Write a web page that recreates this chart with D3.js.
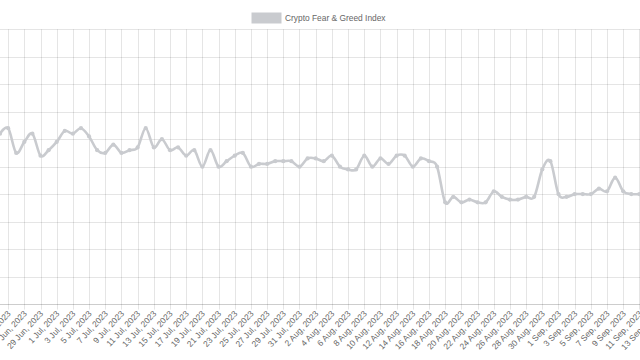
<!DOCTYPE html>
<html>
<head>
<meta charset="utf-8">
<script src="https://cdn.jsdelivr.net/npm/d3@7"></script>
<style>
html,body{margin:0;padding:0;background:#fff;overflow:hidden;}
svg{display:block;}
</style>
</head>
<body>
<svg id="chart" width="640" height="360"></svg>
<script>
// ---- data ----
const seriesName = "Crypto Fear & Greed Index";
const categories = [
  "2023-06-24","2023-06-25","2023-06-26","2023-06-27","2023-06-28","2023-06-29","2023-06-30",
  "2023-07-01","2023-07-02","2023-07-03","2023-07-04","2023-07-05","2023-07-06","2023-07-07",
  "2023-07-08","2023-07-09","2023-07-10","2023-07-11","2023-07-12","2023-07-13","2023-07-14",
  "2023-07-15","2023-07-16","2023-07-17","2023-07-18","2023-07-19","2023-07-20","2023-07-21",
  "2023-07-22","2023-07-23","2023-07-24","2023-07-25","2023-07-26","2023-07-27","2023-07-28",
  "2023-07-29","2023-07-30","2023-07-31","2023-08-01","2023-08-02","2023-08-03","2023-08-04",
  "2023-08-05","2023-08-06","2023-08-07","2023-08-08","2023-08-09","2023-08-10","2023-08-11",
  "2023-08-12","2023-08-13","2023-08-14","2023-08-15","2023-08-16","2023-08-17","2023-08-18",
  "2023-08-19","2023-08-20","2023-08-21","2023-08-22","2023-08-23","2023-08-24","2023-08-25",
  "2023-08-26","2023-08-27","2023-08-28","2023-08-29","2023-08-30","2023-08-31","2023-09-01",
  "2023-09-02","2023-09-03","2023-09-04","2023-09-05","2023-09-06","2023-09-07","2023-09-08",
  "2023-09-09","2023-09-10","2023-09-11","2023-09-12","2023-09-13"
];
const values = [
  62,64,55,59,62,54,56,
  59,63,62,64,61,56,55,
  58,55,56,57,64,57,60,
  56,57,54,56,50,56,50,
  52,54,55,50,51,51,52,
  52,52,50,53,53,52,54,
  50,49,49,54,50,53,51,
  54,54,50,53,52,50,37,
  39,37,38,37,37,41,39,
  38,38,39,39,49,52,40,
  39,40,40,40,42,41,46,
  41,40,40,40,40
];
const yTicks = [0,10,20,30,40,50,60,70,80,90,100];
const monthNames = ["Jan","Feb","Mar","Apr","May","Jun","Jul","Aug","Sep","Oct","Nov","Dec"];

// ---- layout ----
const svg = d3.select("#chart");
const W = 640, H = 360;
const plot = {left: 0.04, right: 655.6, top: 29.3, bottom: 304};
const font = "'Liberation Sans', Arial, Helvetica, sans-serif";
const lineColor = "rgb(201,203,207)";
const gridColor = "rgba(0,0,0,0.1)";

const x = d3.scalePoint().domain(categories).range([plot.left, plot.right]).padding(0);
const y = d3.scaleLinear().domain([0, 100]).range([plot.bottom, plot.top]);

const fmt = s => {
  const [yy, mm, dd] = s.split("-").map(Number);
  return `${dd} ${monthNames[mm-1]}, ${yy}`;
};
const tickCats = categories.filter((d, i) => i % 2 === 1);

const g = svg.append("g");

// horizontal grid
g.append("g").selectAll("line").data(yTicks).join("line")
  .attr("x1", -10).attr("x2", W + 10)
  .attr("y1", d => Math.round(y(d)) + 0.5).attr("y2", d => Math.round(y(d)) + 0.5)
  .attr("stroke", gridColor).attr("stroke-width", 1);

// vertical grid + tick marks
g.append("g").selectAll("line").data(tickCats).join("line")
  .attr("x1", d => Math.round(x(d)) + 0.5).attr("x2", d => Math.round(x(d)) + 0.5)
  .attr("y1", plot.top).attr("y2", plot.bottom + 5.6)
  .attr("stroke", gridColor).attr("stroke-width", 1);

// axis border line
g.append("line")
  .attr("x1", -10).attr("x2", W + 10)
  .attr("y1", Math.round(plot.bottom) + 0.5).attr("y2", Math.round(plot.bottom) + 0.5)
  .attr("stroke", gridColor).attr("stroke-width", 1);

// x labels
g.append("g").selectAll("text").data(tickCats).join("text")
  .attr("transform", d => `translate(${x(d) + 1},${plot.bottom + 8}) rotate(-47)`)
  .attr("text-anchor", "end")
  .attr("dy", "0.35em")
  .attr("font-family", font).attr("font-size", 8.4).attr("fill", "#666")
  .text(fmt);

// line
const pts = categories.map((c, i) => [x(c), y(values[i])]);
const line = d3.line().curve(d3.curveCardinal.tension(0));
g.append("path")
  .attr("d", line(pts))
  .attr("fill", "none").attr("stroke", lineColor).attr("stroke-width", 2.6)
  .attr("stroke-linejoin", "round");

// points
g.append("g").selectAll("circle").data(categories).join("circle")
  .attr("cx", d => x(d)).attr("cy", (d, i) => y(values[i]))
  .attr("r", 2.1).attr("fill", lineColor);

// legend
const lg = svg.append("g");
lg.append("rect").attr("x", 252).attr("y", 13).attr("width", 29).attr("height", 10)
  .attr("fill", lineColor).attr("stroke", lineColor).attr("stroke-width", 1);
lg.append("text").attr("x", 285).attr("y", 18.5).attr("dy", "0.35em")
  .attr("font-family", font).attr("font-size", 8.4).attr("fill", "#666")
  .text(seriesName);
</script>
</body>
</html>
